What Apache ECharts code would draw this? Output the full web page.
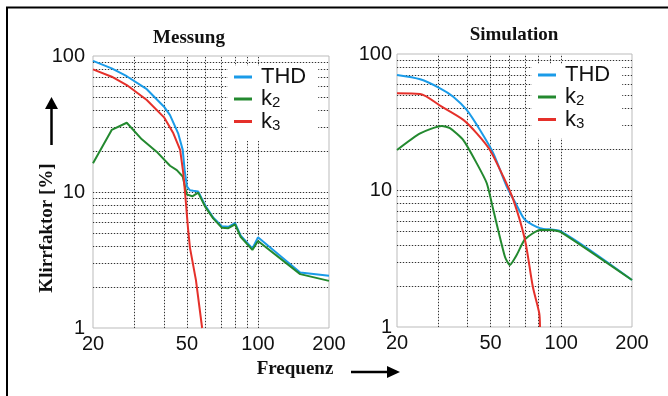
<!DOCTYPE html>
<html>
<head>
<meta charset="utf-8">
<script src="https://cdn.jsdelivr.net/npm/echarts@6/dist/echarts.min.js"></script>
<style>
html,body{margin:0;padding:0;background:#fff;}
#chart{width:668px;height:396px;}
</style>
</head>
<body>
<div id="chart"></div>
<script>
// ---- Data ----
var titles = ['Messung', 'Simulation'];
var seriesNames = ['THD', 'k2', 'k3'];
var xTickLabels = [20, 50, 100, 200];
var yTickLabels = [1, 10, 100];
var xGridValues = [30, 40, 50, 60, 70, 80, 90, 100];
var yGridValues = [2, 3, 4, 5, 6, 7, 8, 9, 10, 20, 30, 40, 50, 60, 70, 80, 90];

// Messung
var messTHDf = [20, 24, 27.8, 33.8, 40, 42.4, 45.9, 48, 48.9, 50, 51.5, 53.2, 55.8, 59.7, 64.6, 70.2, 74.9, 80, 84.4, 94.7, 100, 151, 200];
var messTHDv = [92, 81, 71, 57, 42.4, 36.8, 27, 20.4, 14.5, 11, 10.3, 10.2, 10.1, 8.0, 6.5, 5.6, 5.55, 5.9, 4.8, 3.85, 4.64, 2.56, 2.42];
var messK2f = [20, 24, 27.8, 32.2, 37.2, 42.4, 45.3, 48, 49.9, 52.7, 55.8, 59.7, 64.6, 70.2, 74.9, 80, 84.4, 94.7, 100, 151, 200];
var messK2v = [16.3, 28.6, 32.3, 24.4, 19.8, 15.6, 14.5, 13, 9.6, 9.3, 9.9, 7.8, 6.4, 5.47, 5.42, 5.78, 4.69, 3.75, 4.36, 2.49, 2.22];
var messK3f = [20, 24, 27.8, 33.8, 40, 43.8, 46.8, 48.2, 49.2, 50.5, 51.5, 54.6, 58];
var messK3v = [79.8, 70.4, 61.2, 47.5, 35.4, 27, 20.4, 14, 9.5, 5.5, 3.9, 2.25, 1.0];

// Simulation
var simTHDf = [20, 25.1, 30.5, 34.7, 39.6, 45.1, 51.4, 58.6, 64.6, 70.1, 81.2, 100, 200];
var simTHDv = [70.2, 65.3, 56.1, 48.7, 38.9, 27.7, 18.7, 10.7, 7.8, 6.1, 5.3, 5.0, 2.21];
var simK2f = [20, 25.1, 31, 33.6, 38.3, 43.7, 48.2, 51.4, 57.6, 60.4, 64.6, 70.1, 81.2, 90.8, 100, 200];
var simK2v = [19.8, 26.2, 29.7, 28.6, 23.4, 15.8, 11.3, 7.2, 3.27, 2.85, 3.37, 4.39, 5.13, 5.13, 4.94, 2.21];
var simK3f = [20, 25.1, 31, 38.3, 43.7, 49.7, 56.7, 62.6, 70.1, 75.7, 80.6, 81.2];
var simK3v = [51.5, 51, 41.1, 32.9, 26.2, 19.8, 12.6, 8.5, 4.34, 1.97, 1.26, 1.0];

var colors = {THD: '#1a9be8', k2: '#23892f', k3: '#e5302a'};

function pairs(f, v) { return f.map(function (x, i) { return [x, v[i]]; }); }

var sans = '"Liberation Sans", Arial, sans-serif';
var serif = '"Liberation Serif", "Times New Roman", serif';

var grids = [
  {left: 93, top: 56, width: 236, height: 272, show: true, borderColor: '#bbb', borderWidth: 1},
  {left: 397, top: 54, width: 235, height: 273, show: true, borderColor: '#bbb', borderWidth: 1}
];
var yMargins = [8, 5];

function xAxisFor(i) {
  return {
    type: 'log', logBase: 10, min: 20, max: 200, gridIndex: i,
    axisLine: {show: false}, axisTick: {show: false}, splitLine: {show: false},
    axisLabel: {customValues: xTickLabels, fontSize: 20, color: '#111', fontFamily: sans, margin: 6, hideOverlap: false}
  };
}
function yAxisFor(i) {
  return {
    type: 'log', logBase: 10, min: 1, max: 100, gridIndex: i,
    axisLine: {show: false}, axisTick: {show: false}, splitLine: {show: false},
    axisLabel: {customValues: yTickLabels, fontSize: 20, color: '#111', fontFamily: sans, margin: yMargins[i], hideOverlap: false}
  };
}

function gridLineSeries(i) {
  var data = [];
  xGridValues.forEach(function (v) { data.push({xAxis: v, lineStyle: {color: '#d6d6d6', type: 'solid', width: 1}}); });
  yGridValues.forEach(function (v) { data.push({yAxis: v, lineStyle: {color: '#d6d6d6', type: 'solid', width: 1}}); });
  xGridValues.forEach(function (v) { data.push({xAxis: v, lineStyle: {color: '#333', type: [1, 2], width: 1}}); });
  yGridValues.forEach(function (v) { data.push({yAxis: v, lineStyle: {color: '#333', type: [1, 2], width: 1}}); });
  return {
    type: 'line', name: '_grid' + i, xAxisIndex: i, yAxisIndex: i, data: [], z: 1, silent: true,
    markLine: {silent: true, z: 1, symbol: ['none', 'none'], label: {show: false}, animation: false, data: data}
  };
}

function dataSeries(name, i, f, v, smooth) {
  return {
    type: 'line', name: name, xAxisIndex: i, yAxisIndex: i,
    data: pairs(f, v), showSymbol: false, symbol: 'none', z: 3,
    smooth: smooth || false,
    lineStyle: {color: colors[name], width: 2}, itemStyle: {color: colors[name]},
    animation: false
  };
}

function legendFor(left, top, padBottom) {
  return {
    data: seriesNames, orient: 'vertical', left: left, top: top,
    backgroundColor: '#fff', padding: [0, 12, padBottom, 6], itemGap: 0,
    icon: 'rect', itemWidth: 18, itemHeight: 3, z: 4,
    selectedMode: false,
    formatter: function (name) {
      return name === 'THD' ? '{n|THD}' : '{n|k}{s|' + name.substring(1) + '}';
    },
    textStyle: {
      padding: [0, 0, 0, 4],
      rich: {
        n: {fontSize: 22, lineHeight: 23, color: '#111', fontFamily: sans},
        s: {fontSize: 15, lineHeight: 11, verticalAlign: 'bottom', color: '#111', fontFamily: sans}
      }
    }
  };
}

var option = {
  animation: false,
  backgroundColor: '#fff',
  title: [
    {text: titles[0], left: 189, top: 29, textAlign: 'center', padding: 0,
     textStyle: {fontFamily: serif, fontWeight: 'bold', fontSize: 19, color: '#111'}},
    {text: titles[1], left: 514, top: 26, textAlign: 'center', padding: 0,
     textStyle: {fontFamily: serif, fontWeight: 'bold', fontSize: 19, color: '#111'}}
  ],
  grid: grids,
  xAxis: [xAxisFor(0), xAxisFor(1)],
  yAxis: [yAxisFor(0), yAxisFor(1)],
  legend: [legendFor(228, 66, 8), legendFor(532, 64, 7)],
  series: [
    gridLineSeries(0), gridLineSeries(1),
    dataSeries('THD', 0, messTHDf, messTHDv),
    dataSeries('k2', 0, messK2f, messK2v),
    dataSeries('k3', 0, messK3f, messK3v),
    dataSeries('THD', 1, simTHDf, simTHDv, 0.25),
    dataSeries('k2', 1, simK2f, simK2v, 0.2),
    dataSeries('k3', 1, simK3f, simK3v, 0.25)
  ],
  graphic: [
    {type: 'rect', shape: {x: 7, y: 7.5, width: 720, height: 500}, style: {fill: 'none', stroke: '#000', lineWidth: 2}, silent: true, z: 10},
    {type: 'text', x: 47, y: 228, rotation: Math.PI / 2,
     style: {text: 'Klirrfaktor [%]', font: 'bold 19px ' + serif, fill: '#111', align: 'center', verticalAlign: 'middle'}},
    {type: 'text', x: 295, y: 369,
     style: {text: 'Frequenz', font: 'bold 19px ' + serif, fill: '#111', align: 'center', verticalAlign: 'middle'}},
    {type: 'line', shape: {x1: 51.5, y1: 145, x2: 51.5, y2: 106}, style: {stroke: '#000', lineWidth: 2.5}},
    {type: 'polygon', shape: {points: [[45, 109], [51.5, 97], [58, 109]]}, style: {fill: '#000'}},
    {type: 'line', shape: {x1: 351, y1: 372, x2: 390, y2: 372}, style: {stroke: '#000', lineWidth: 2.5}},
    {type: 'polygon', shape: {points: [[387, 366], [400, 372], [387, 378]]}, style: {fill: '#000'}}
  ]
};

var chart = echarts.init(document.getElementById('chart'), null, {renderer: 'canvas'});
chart.setOption(option);
</script>
</body>
</html>
